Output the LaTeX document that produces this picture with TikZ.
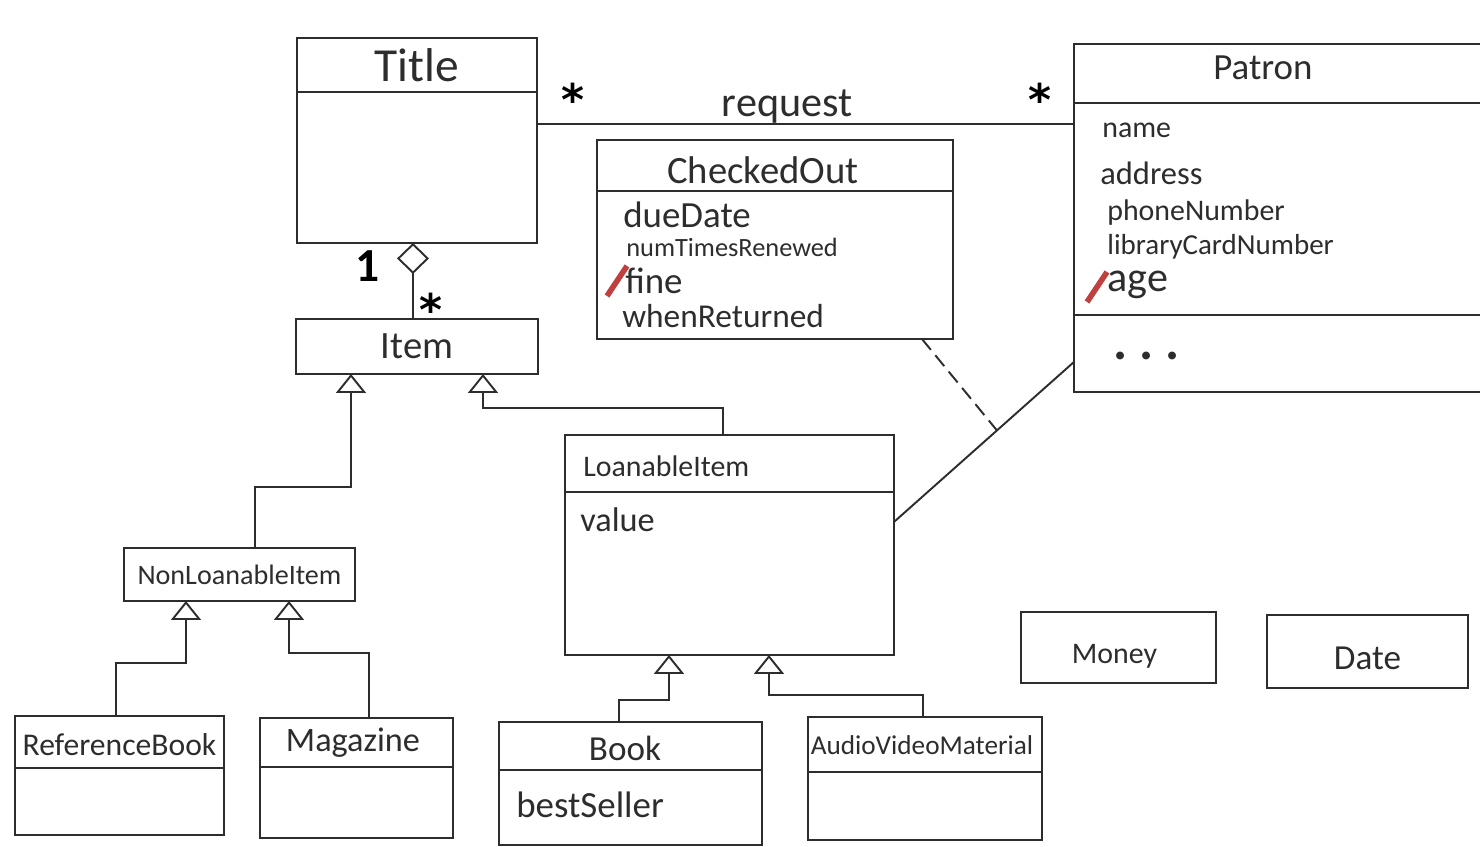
\documentclass[tikz,border=0pt]{standalone}
\usepackage{fontspec}
\setmainfont{Carlito}
\newfontfamily\starfont{DejaVu Sans}
\usepackage{tikz}
\usetikzlibrary{positioning,calc,arrows.meta}
\definecolor{ink}{RGB}{45,45,45}
\definecolor{slashred}{RGB}{192,64,64}

\begin{document}
\begin{tikzpicture}[
    x=0.02cm, y=-0.02cm,
    fs/.style={font=\fontsize{#1}{#1}\selectfont},
    cls/.style={draw=ink, line width=1.1pt, rectangle, anchor=north west, inner sep=0pt, outer sep=0pt, text=ink},
    cname/.style={inner sep=0pt, text=ink},
    attr/.style={anchor=west, inner sep=0pt, text=ink},
    mult/.style={anchor=north, inner sep=0pt, font=\bfseries\fontsize{#1}{#1}\selectfont},
    many/.style={anchor=north, inner sep=0pt, font=\starfont\bfseries\fontsize{25}{25}\selectfont},
    link/.style={draw=ink, line width=1.1pt},
    gen/.style={link, -{Triangle[open, width=0.6cm, length=0.38cm]}},
    agg/.style={link, -{Diamond[open, width=0.64cm, length=0.62cm]}},
    slash/.style={draw=slashred, line width=3.2pt}
]
    \useasboundingbox (0,0) rectangle (1480,847);

    % class boxes
    \node [cls, minimum width=4.8cm, minimum height=4.1cm] (title) at (297,38) {};
    \node [cls, minimum width=4.84cm, minimum height=1.1cm, fs=22] (item) at (296,319) {Item};
    \node [cls, minimum width=7.12cm, minimum height=3.98cm] (checked) at (597,140) {};
    \node [cls, minimum width=8.3cm, minimum height=6.96cm] (patron) at (1074,44) {};
    \node [cls, minimum width=6.58cm, minimum height=4.4cm] (loanable) at (565,435) {};
    \node [cls, minimum width=4.62cm, minimum height=1.06cm, fs=16] (nonloan) at (124,548) {NonLoanableItem};
    \node [cls, minimum width=4.18cm, minimum height=2.38cm] (refbook) at (15,716) {};
    \node [cls, minimum width=3.86cm, minimum height=2.4cm] (magazine) at (260,718) {};
    \node [cls, minimum width=5.26cm, minimum height=2.46cm] (book) at (499,722) {};
    \node [cls, minimum width=4.68cm, minimum height=2.46cm] (avm) at (808,717) {};
    \node [cls, minimum width=3.9cm, minimum height=1.42cm] (money) at (1021,612) {};
    \node [cls, minimum width=4.02cm, minimum height=1.46cm] (date) at (1267,615) {};

    % compartment lines
    \foreach \cl/\d in {title/-1.08cm, checked/-1.02cm, patron/-1.18cm, patron/-5.42cm, loanable/-1.14cm,
                        refbook/-1.04cm, magazine/-0.98cm, book/-0.96cm, avm/-1.1cm}
        \draw [link] ([yshift=\d]\cl.north west) -- ([yshift=\d]\cl.north east);

    % class names
    \node [cname, fs=27] (titlename) at ([yshift=-0.54cm]title.north) {Title};
    \node [cname, fs=22] (checkedname) at ([xshift=-0.24cm, yshift=-0.6cm]checked.north) {CheckedOut};
    \node [cname, fs=21] (patronname) at ([xshift=-0.37cm, yshift=-0.48cm]patron.north) {Patron};
    \node [attr, fs=17] (loanablename) at ([xshift=0.36cm, yshift=-0.62cm]loanable.north west) {LoanableItem};
    \node [cname, fs=18] (refbookname) at ([yshift=-0.58cm]refbook.north) {ReferenceBook};
    \node [cname, fs=19.5] (magazinename) at ([xshift=-0.07cm, yshift=-0.5cm]magazine.north) {Magazine};
    \node [cname, fs=20] (bookname) at ([xshift=-0.11cm, yshift=-0.52cm]book.north) {Book};
    \node [cname, fs=15.5] (avmname) at ([xshift=-0.06cm, yshift=-0.56cm]avm.north) {AudioVideoMaterial};
    \node [cname, fs=17] (moneyname) at ([xshift=-0.08cm, yshift=-0.17cm]money.center) {Money};
    \node [cname, fs=20] (datename) at ([yshift=-0.13cm]date.center) {Date};

    % attributes
    \foreach \n/\dx/\dy/\sz/\txt in {due/0.52/1.5/21/dueDate, renewed/0.58/2.14/15/numTimesRenewed,
                                     fine/0.56/2.82/21/fine, returned/0.5/3.52/19/whenReturned}
        \node [attr, fs=\sz] (\n) at ([xshift=\dx cm, yshift=-\dy cm]checked.north west) {\txt};
    \foreach \n/\dx/\dy/\sz/\txt in {name/0.56/1.72/17/name, address/0.52/2.58/18.5/address,
                                     phone/0.66/3.38/17/phoneNumber, card/0.66/4.06/16.5/libraryCardNumber,
                                     age/0.66/4.82/24/age}
        \node [attr, fs=\sz] (\n) at ([xshift=\dx cm, yshift=-\dy cm]patron.north west) {\txt};
    \node [attr, font=\bfseries\fontsize{30}{30}\selectfont] (ops) at ([xshift=0.78cm, yshift=-6.24cm]patron.north west) {.\ .\ .};
    \node [attr, fs=19.5] (value) at ([xshift=0.3cm, yshift=-1.7cm]loanable.north west) {value};
    \node [attr, fs=21] (bestseller) at ([xshift=0.34cm, yshift=-1.66cm]book.north west) {bestSeller};

    % derived attributes
    \draw [slash] ([xshift=-0.36cm, yshift=-0.3cm]fine.west) -- ([xshift=0.04cm, yshift=0.3cm]fine.west);
    \draw [slash] ([xshift=-0.4cm, yshift=-0.34cm]age.west) -- ([yshift=0.26cm]age.west);

    % associations
    \draw [link] ([yshift=0.33cm]title.east) -- ([yshift=0.33cm]title.east -| patron.west)
        node [pos=0.466, anchor=south, inner sep=0pt, fs=24, text=ink] (request) {request};
    \draw [link] ([yshift=0.46cm]loanable.east) -- ([yshift=-2.88cm]patron.west)
        coordinate [pos=0.572] (loan);
    \draw [link, dashed, dash pattern=on 8pt off 4pt] ([xshift=-0.62cm]checked.south east) -- (loan);
    \draw [agg] ([xshift=-0.08cm]item.north) -- ([xshift=-0.08cm]title.south);

    % multiplicities
    \node [many] (reqtitle) at (573,83) {⁎};
    \node [many] (reqpatron) at (1040,83) {⁎};
    \node [mult=27] (aggone) at (368,250) {1};
    \node [many] (aggmany) at (431,293) {⁎};

    % generalisations
    \draw [gen] ([xshift=0.31cm]nonloan.north) -- ++(0,1.22cm) -| ([xshift=-1.32cm]item.south);
    \draw [gen] ([xshift=-0.13cm]loanable.north) -- ++(0,0.54cm) -| ([xshift=1.32cm]item.south);
    \draw [gen] ([xshift=-0.07cm]refbook.north) -- ++(0,1.06cm) -| ([xshift=-1.07cm]nonloan.south);
    \draw [gen] ([xshift=0.25cm]magazine.north) -- ++(0,1.3cm) -| ([xshift=0.99cm]nonloan.south);
    \draw [gen] ([xshift=-0.23cm]book.north) -- ++(0,0.44cm) -| ([xshift=-1.21cm]loanable.south);
    \draw [gen] ([xshift=-0.04cm]avm.north) -- ++(0,0.44cm) -| ([xshift=0.79cm]loanable.south);
\end{tikzpicture}
\end{document}
